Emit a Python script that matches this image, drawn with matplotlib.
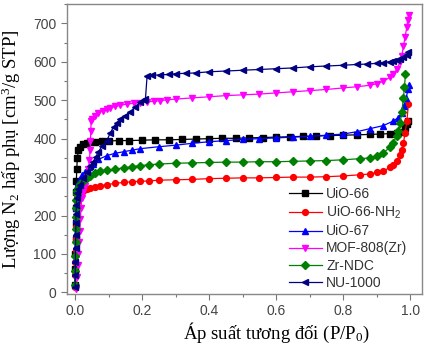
import numpy as np
import matplotlib
matplotlib.use("Agg")
from matplotlib import pyplot as plt
from matplotlib.ticker import MultipleLocator

plt.rcParams['font.family'] = ['Liberation Sans', 'DejaVu Sans']
plt.rcParams['mathtext.default'] = 'regular'

low_x = [0.0003, 0.0006, 0.001, 0.0015, 0.002, 0.0025, 0.003, 0.004, 0.005, 0.007]

# UiO-66
x_uio66 = low_x + [0.01, 0.016, 0.024, 0.035, 0.045, 0.06, 0.08, 0.1, 0.13, 0.16, 0.2, 0.24, 0.28,
                   0.32, 0.36, 0.4, 0.44, 0.48, 0.52, 0.56, 0.6, 0.64, 0.68, 0.72, 0.76, 0.8, 0.84,
                   0.88, 0.91, 0.94, 0.96, 0.975, 0.985, 0.99, 0.995]
y_uio66 = [20, 60, 100, 140, 180, 220, 260, 290, 320, 350, 370, 379, 385, 389, 391, 392, 393, 394,
           395, 395, 396, 397, 397, 398, 399, 400, 401, 401, 402, 403, 404, 405, 406, 407, 408, 409,
           410, 411, 412, 413, 415, 418, 428, 438, 446]

# UiO-66-NH2
x_nh2 = low_x + [0.01, 0.015, 0.024, 0.035, 0.045, 0.06, 0.075, 0.095, 0.12, 0.145, 0.17, 0.195,
                 0.22, 0.25, 0.3, 0.35, 0.4, 0.45, 0.5, 0.55, 0.6, 0.65, 0.7, 0.75, 0.8, 0.85, 0.88,
                 0.9, 0.92, 0.94, 0.95, 0.96, 0.97, 0.975, 0.98, 0.985, 0.99, 0.995]
y_nh2 = [15, 45, 80, 110, 140, 170, 195, 220, 235, 245, 252, 258, 265, 269, 272, 275, 278, 280, 284,
         286, 288, 289, 290, 292, 293, 294, 296, 297, 298, 298, 299, 300, 300, 301, 303, 306, 308,
         312, 316, 325, 332, 342, 358, 370, 390, 415, 445, 490]

# UiO-67
x_uio67 = low_x + [0.01, 0.015, 0.022, 0.03, 0.042, 0.054, 0.07, 0.095, 0.12, 0.145, 0.17, 0.195,
                   0.25, 0.3, 0.35, 0.4, 0.45, 0.5, 0.55, 0.6, 0.65, 0.7, 0.75, 0.8, 0.84, 0.88,
                   0.92, 0.95, 0.965, 0.975, 0.982, 0.988, 0.994, 0.997]
y_uio67 = [18, 50, 85, 120, 155, 190, 220, 245, 262, 275, 285, 296, 305, 314, 325, 335, 346, 356,
           362, 366, 370, 374, 379, 383, 388, 392, 395, 398, 400, 402, 404, 406, 409, 412, 418, 426,
           434, 446, 455, 468, 486, 505, 530, 540]

# MOF-808(Zr)
x_mof808 = [0.004, 0.006, 0.008, 0.01, 0.012, 0.014, 0.016, 0.018, 0.02, 0.024, 0.03, 0.036, 0.04,
            0.043, 0.045, 0.046, 0.047, 0.048, 0.052, 0.06, 0.07, 0.084, 0.095, 0.105, 0.12, 0.135,
            0.155, 0.175, 0.195, 0.215, 0.235, 0.255, 0.275, 0.3, 0.35, 0.4, 0.45, 0.5, 0.55, 0.6,
            0.65, 0.7, 0.75, 0.8, 0.84, 0.88, 0.9, 0.92, 0.94, 0.95, 0.96, 0.97, 0.975, 0.98, 0.985,
            0.99, 0.993, 0.996]
y_mof808 = [10, 40, 70, 100, 130, 160, 190, 220, 245, 262, 278, 300, 320, 345, 370, 395, 420, 445,
            452, 460, 467, 473, 477, 480, 484, 487, 490, 492, 494, 496, 497, 499, 501, 503, 506, 509,
            512, 514, 516, 519, 522, 525, 528, 532, 535, 539, 543, 549, 560, 568, 580, 600, 615, 640,
            665, 690, 710, 722]

# Zr-NDC
x_zrndc = low_x + [0.01, 0.015, 0.024, 0.035, 0.045, 0.06, 0.075, 0.095, 0.12, 0.145, 0.17, 0.195,
                   0.22, 0.25, 0.3, 0.35, 0.4, 0.45, 0.5, 0.55, 0.6, 0.65, 0.7, 0.75, 0.8, 0.85,
                   0.88, 0.9, 0.92, 0.94, 0.95, 0.96, 0.965, 0.97, 0.975, 0.98, 0.983, 0.986]
y_zrndc = [20, 55, 95, 130, 165, 195, 220, 240, 255, 265, 272, 282, 290, 298, 304, 310, 315, 318,
           321, 324, 327, 330, 332, 334, 336, 337, 338, 339, 339, 340, 340, 341, 342, 343, 345,
           348, 350, 355, 363, 378, 390, 408, 420, 440, 470, 505, 535, 568]

# NU-1000
x_nu1000 = low_x + [0.009, 0.015, 0.025, 0.036, 0.045, 0.054, 0.062, 0.07, 0.08, 0.095, 0.105,
                    0.115, 0.125, 0.135, 0.15, 0.165, 0.18, 0.195, 0.205, 0.21, 0.215, 0.23, 0.255,
                    0.28, 0.3, 0.33, 0.36, 0.4, 0.45, 0.5, 0.55, 0.6, 0.65, 0.7, 0.75, 0.8, 0.84,
                    0.87, 0.9, 0.92, 0.94, 0.95, 0.96, 0.97, 0.98, 0.99, 0.995]
y_nu1000 = [15, 45, 80, 115, 150, 180, 205, 228, 245, 258, 268, 280, 298, 314, 328, 340, 353, 366,
            380, 395, 415, 430, 442, 450, 460, 470, 483, 495, 500, 502, 563, 565, 566, 567, 569,
            570, 571, 574, 576, 578, 580, 582, 584, 587, 589, 591, 593, 594, 596, 598, 600, 602,
            605, 608, 612, 618, 625]

series = [
    ("UiO-66", x_uio66, y_uio66, "black", "s"),
    ("UiO-66-NH$_2$", x_nh2, y_nh2, "red", "o"),
    ("UiO-67", x_uio67, y_uio67, "blue", "^"),
    ("MOF-808(Zr)", x_mof808, y_mof808, "magenta", "v"),
    ("Zr-NDC", x_zrndc, y_zrndc, "green", "D"),
    ("NU-1000", x_nu1000, y_nu1000, "navy", "<"),
]

fig = plt.figure(figsize=(4.24, 3.45), dpi=100)
ax = fig.add_axes([0.158, 0.148, 0.837, 0.84])

for name, xs, ys, col, mk in series:
    ms = 3.6 if mk == "D" else 4.2
    ax.plot(xs, ys, color=col, marker=mk, markersize=ms, linewidth=0.9, label=name)

ax.set_xlim(-0.024, 1.035)
ax.set_ylim(-4, 750)
ax.xaxis.set_minor_locator(MultipleLocator(0.1))
ax.yaxis.set_major_locator(MultipleLocator(100))
ax.yaxis.set_minor_locator(MultipleLocator(50))
ax.set_xticks(np.arange(0, 1.01, 0.2))
ax.set_xticklabels(["0.0", "0.2", "0.4", "0.6", "0.8", "1.0"])
ax.tick_params(which="major", direction="out", length=4, width=0.8, color="#777777",
               labelsize=10, labelcolor="#444444")
ax.tick_params(which="minor", direction="out", length=2.5, width=0.8, color="#777777")
for s in ax.spines.values():
    s.set_color("#888888")
    s.set_linewidth(1.0)

ax.set_xlabel("Áp suất tương đối (P/P$_0$)", family=["Liberation Serif", "DejaVu Serif"],
              fontsize=13.5, labelpad=2, x=0.59)
ax.set_ylabel("Lượng N$_2$ hấp phụ [cm$^3$/g STP]", family=["Liberation Serif", "DejaVu Serif"],
              fontsize=13.5, labelpad=7)

leg = ax.legend(loc="lower left", bbox_to_anchor=(0.625, 0.015), frameon=False, fontsize=10,
                handlelength=2.4, labelspacing=0.22, borderpad=0, borderaxespad=0,
                handletextpad=0.3)
for t in leg.get_texts():
    t.set_color("#333333")

fig.savefig("out.png", dpi=100)
